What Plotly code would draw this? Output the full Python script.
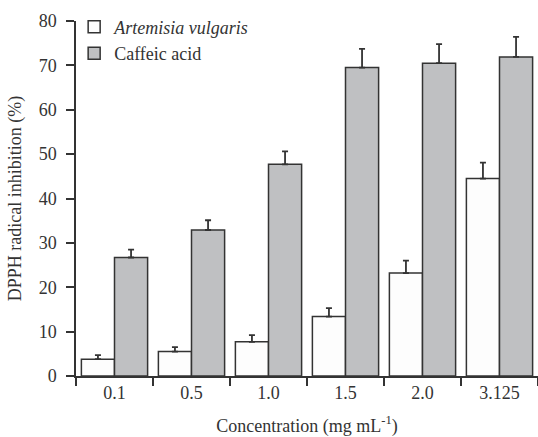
import plotly.graph_objects as go

categories = ["0.1", "0.5", "1.0", "1.5", "2.0", "3.125"]
artemisia = [3.8, 5.5, 7.7, 13.4, 23.2, 44.5]
artemisia_err = [0.9, 1.0, 1.5, 1.9, 2.8, 3.6]
caffeic = [26.7, 32.9, 47.7, 69.5, 70.5, 71.9]
caffeic_err = [1.8, 2.2, 2.9, 4.2, 4.3, 4.5]
y_ticks = [0, 10, 20, 30, 40, 50, 60, 70, 80]

line_col = "#333333"
font_fam = "Liberation Serif, Times New Roman, serif"
fs = 18

fig = go.Figure()
fig.add_trace(go.Bar(
    x=categories, y=artemisia, name="<i>Artemisia vulgaris</i>",
    marker=dict(color="#fdfdfd", line=dict(color=line_col, width=1.5)),
    error_y=dict(type="data", array=artemisia_err, arrayminus=[0]*6, symmetric=False,
                 color=line_col, thickness=1.8, width=3),
))
fig.add_trace(go.Bar(
    x=categories, y=caffeic, name="Caffeic acid",
    marker=dict(color="#bfc0c2", line=dict(color=line_col, width=1.5)),
    error_y=dict(type="data", array=caffeic_err, arrayminus=[0]*6, symmetric=False,
                 color=line_col, thickness=1.8, width=3),
))

fig.update_layout(
    width=538, height=437,
    margin=dict(l=76, r=0, t=21, b=61),
    paper_bgcolor="white", plot_bgcolor="white",
    barmode="group", bargap=0.14, bargroupgap=0,
    font=dict(family=font_fam, size=fs, color="#333333"),
    showlegend=True,
    legend=dict(x=-0.004, y=1.035, xanchor="left", yanchor="top",
                font=dict(size=fs), bgcolor="rgba(0,0,0,0)",
                itemwidth=30, tracegroupgap=0),
    xaxis=dict(
        type="category", range=[-0.5, 5.5],
        tickson="boundaries", ticks="outside", ticklen=8, tickwidth=1.5, tickcolor=line_col,
        showline=True, linecolor=line_col, linewidth=1.5,
        showgrid=False, tickfont=dict(size=fs),
        title=dict(text="Concentration (mg mL<sup>-1</sup>)", font=dict(size=fs), standoff=19),
    ),
    yaxis=dict(
        range=[0, 80], tickvals=y_ticks, ticks="outside", ticklen=8, tickwidth=1.5,
        tickcolor=line_col, showline=True, linecolor=line_col, linewidth=1.5,
        showgrid=False, zeroline=False, tickfont=dict(size=fs), ticklabelstandoff=6,
        title=dict(text="DPPH radical inhibition (%)", font=dict(size=fs), standoff=12),
    ),
)

fig.write_html("out.html")
